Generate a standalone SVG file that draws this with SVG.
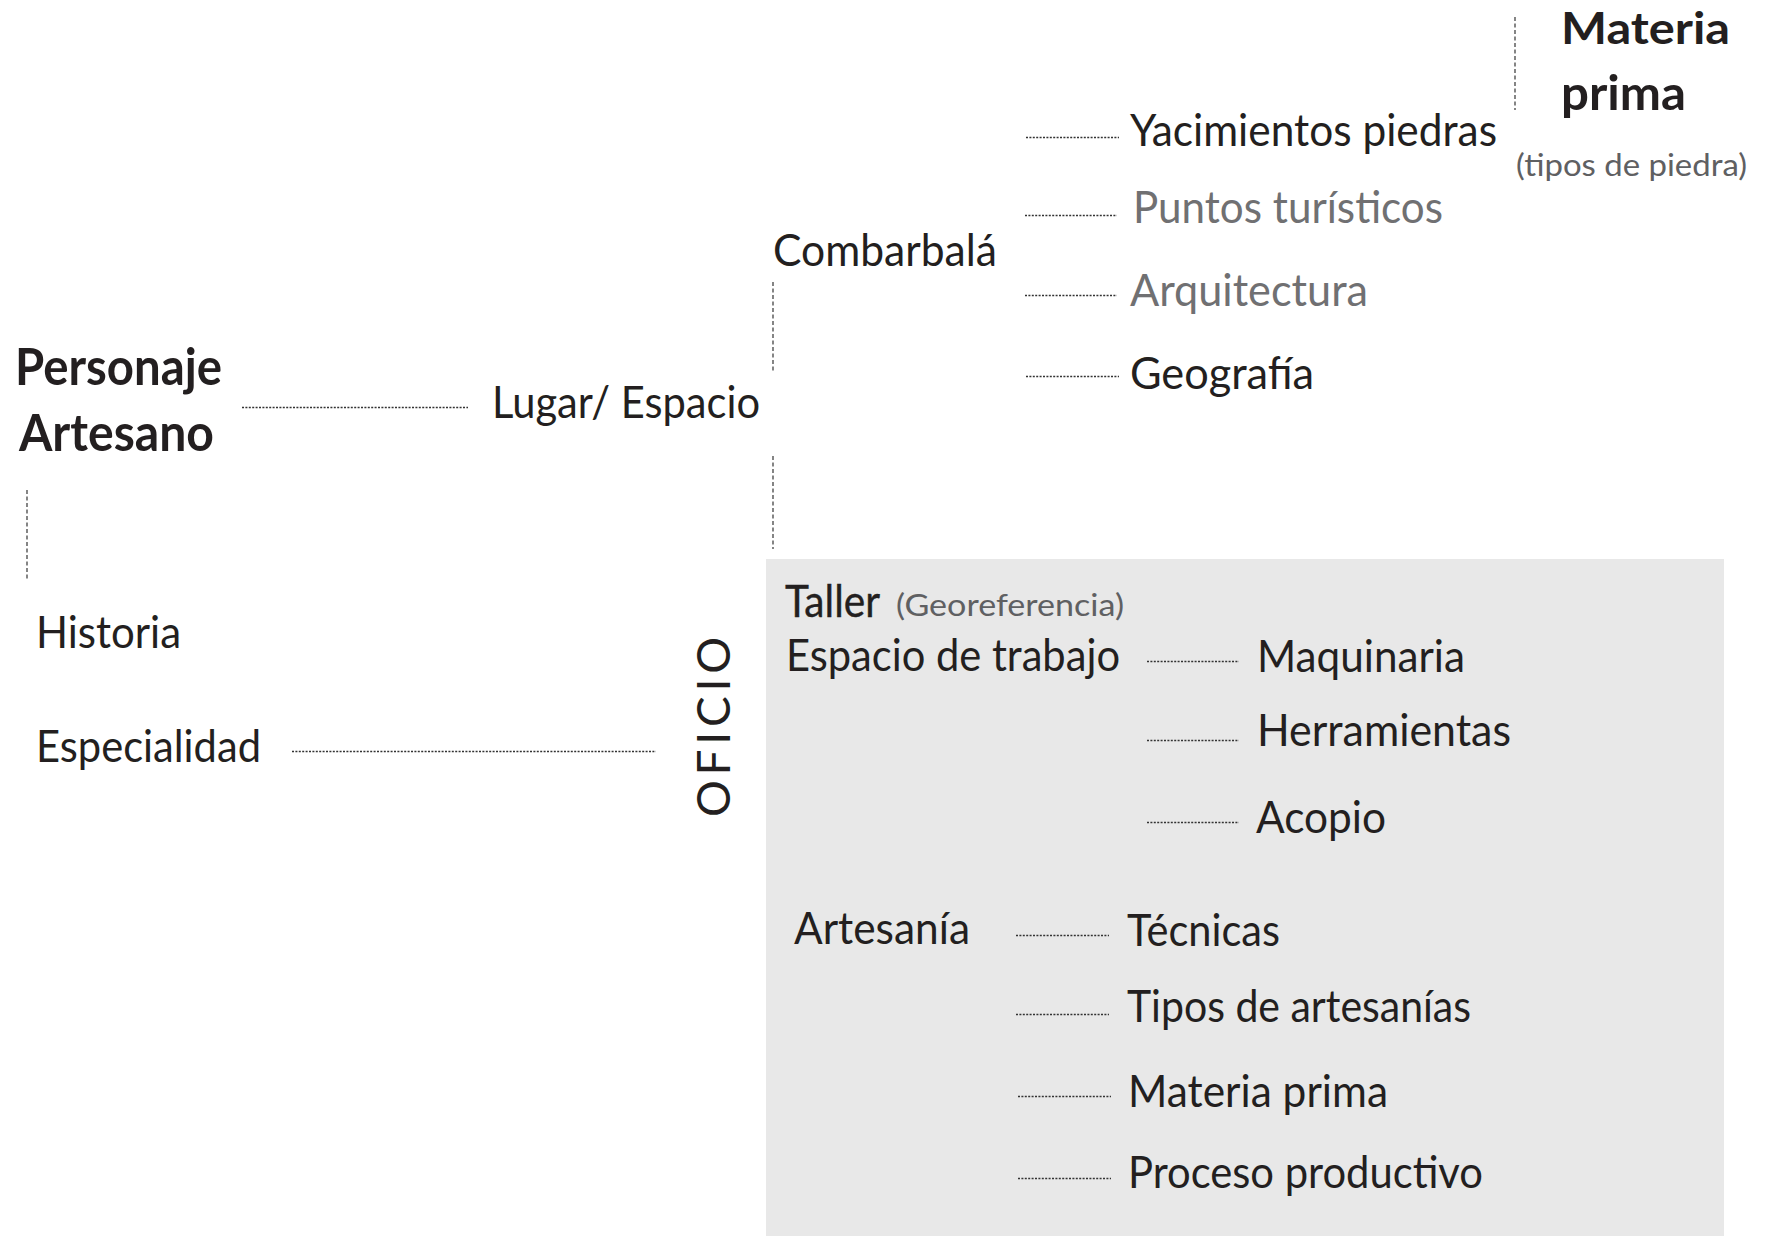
<svg xmlns="http://www.w3.org/2000/svg" width="1767" height="1236" viewBox="0 0 1767 1236">
  <style>
    text { font-family: Lato, "Liberation Sans", Arial, sans-serif; fill: #231f20; font-size: 45px; }
    .b { font-weight: bold; font-size: 51px; }
    .g { fill: #707072; }
    .sm { font-size: 31px; fill: #5f6062; }
    .med { stroke: #231f20; stroke-width: 0.4; }
    .h { stroke: #333; stroke-width: 1.4; stroke-dasharray: 2 1.4; fill: none; }
    .v { stroke: #444; stroke-width: 1.3; stroke-dasharray: 4 2.5; fill: none; }
  </style>
  <rect id="oficio-panel" x="766" y="559" width="958" height="677" fill="#e8e8e8"/>
  <g id="connectors">
    <line class="v" x1="27" y1="490" x2="27" y2="581"/>
    <line class="h" x1="242" y1="407.5" x2="468" y2="407.5"/>
    <line class="v" x1="773" y1="282" x2="773" y2="372"/>
    <line class="v" x1="773" y1="456" x2="773" y2="549"/>
    <line class="h" x1="1026" y1="137.5" x2="1119" y2="137.5"/>
    <line class="h" x1="1025" y1="215.5" x2="1117" y2="215.5"/>
    <line class="h" x1="1025" y1="295.5" x2="1117" y2="295.5"/>
    <line class="h" x1="1026" y1="376.5" x2="1119" y2="376.5"/>
    <line class="v" x1="1515" y1="17" x2="1515" y2="110"/>
    <line class="h" x1="292" y1="751.5" x2="656" y2="751.5"/>
    <line class="h" x1="1147" y1="661.5" x2="1239" y2="661.5"/>
    <line class="h" x1="1147" y1="740.5" x2="1239" y2="740.5"/>
    <line class="h" x1="1147" y1="822.5" x2="1239" y2="822.5"/>
    <line class="h" x1="1016" y1="935.5" x2="1109" y2="935.5"/>
    <line class="h" x1="1016" y1="1014.5" x2="1109" y2="1014.5"/>
    <line class="h" x1="1018" y1="1096.5" x2="1111" y2="1096.5"/>
    <line class="h" x1="1018" y1="1178.5" x2="1111" y2="1178.5"/>
  </g>
  <g id="personaje-artesano">
    <text class="b" x="15" y="385" textLength="207" lengthAdjust="spacingAndGlyphs">Personaje</text>
    <text class="b" x="19" y="451" textLength="195" lengthAdjust="spacingAndGlyphs">Artesano</text>
  </g>
  <g id="lugar-espacio"><text x="492" y="418" textLength="268" lengthAdjust="spacingAndGlyphs">Lugar/ Espacio</text></g>
  <g id="combarbala"><text x="773" y="266" textLength="224" lengthAdjust="spacingAndGlyphs">Combarbalá</text></g>
  <g id="yacimientos"><text x="1130" y="146" textLength="367" lengthAdjust="spacingAndGlyphs">Yacimientos piedras</text></g>
  <g id="puntos"><text class="g" x="1133" y="223" textLength="310" lengthAdjust="spacingAndGlyphs">Puntos turísticos</text></g>
  <g id="arquitectura"><text class="g" x="1130" y="306" textLength="238" lengthAdjust="spacingAndGlyphs">Arquitectura</text></g>
  <g id="geografia"><text x="1130" y="389" textLength="184" lengthAdjust="spacingAndGlyphs">Geografía</text></g>
  <g id="materia-prima-top">
    <text class="b" style="font-size:44px" x="1561" y="44" textLength="169" lengthAdjust="spacingAndGlyphs">Materia</text>
    <text class="b" style="font-size:48px" x="1561" y="110" textLength="125" lengthAdjust="spacingAndGlyphs">prima</text>
    <text class="sm" x="1516" y="176" textLength="231" lengthAdjust="spacingAndGlyphs">(tipos de piedra)</text>
  </g>
  <g id="historia"><text x="36" y="648" textLength="145" lengthAdjust="spacingAndGlyphs">Historia</text></g>
  <g id="especialidad"><text x="36" y="762" textLength="225" lengthAdjust="spacingAndGlyphs">Especialidad</text></g>
  <g id="oficio"><text transform="translate(730,817) rotate(-90)" x="0" y="0" style="font-size:46px" textLength="180" lengthAdjust="spacing">OFICIO</text></g>
  <g id="taller">
    <text class="med" x="785" y="617" textLength="95" lengthAdjust="spacingAndGlyphs">Taller</text>
    <text class="sm" x="896" y="616" textLength="228" lengthAdjust="spacingAndGlyphs">(Georeferencia)</text>
  </g>
  <g id="espacio-trabajo"><text x="786" y="671" textLength="334" lengthAdjust="spacingAndGlyphs">Espacio de trabajo</text></g>
  <g id="maquinaria"><text x="1257" y="672" textLength="208" lengthAdjust="spacingAndGlyphs">Maquinaria</text></g>
  <g id="herramientas"><text x="1257" y="746" textLength="254" lengthAdjust="spacingAndGlyphs">Herramientas</text></g>
  <g id="acopio"><text x="1256" y="833" textLength="130" lengthAdjust="spacingAndGlyphs">Acopio</text></g>
  <g id="artesania"><text x="794" y="944" textLength="176" lengthAdjust="spacingAndGlyphs">Artesanía</text></g>
  <g id="tecnicas"><text x="1127" y="946" textLength="153" lengthAdjust="spacingAndGlyphs">Técnicas</text></g>
  <g id="tipos-artesanias"><text x="1127" y="1022" textLength="344" lengthAdjust="spacingAndGlyphs">Tipos de artesanías</text></g>
  <g id="materia-prima"><text x="1128" y="1107" textLength="260" lengthAdjust="spacingAndGlyphs">Materia prima</text></g>
  <g id="proceso-productivo"><text x="1128" y="1188" textLength="355" lengthAdjust="spacingAndGlyphs">Proceso productivo</text></g>
</svg>
